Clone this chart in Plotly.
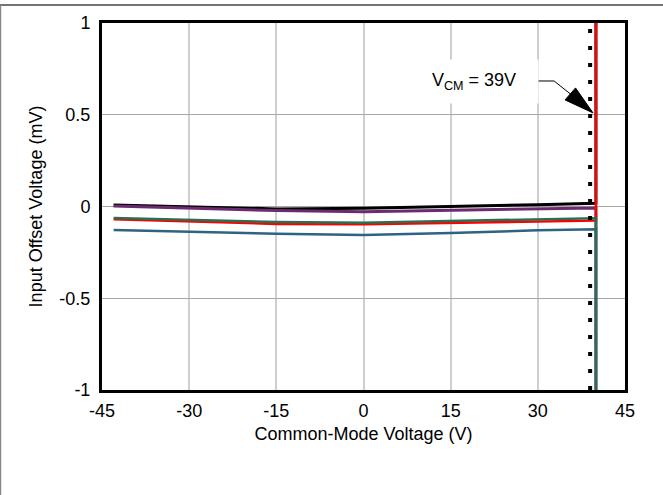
import plotly.graph_objects as go

vcm = [-43, -30, -15, 0, 15, 30, 40, 40]
black = [0.008, 0.0, -0.013, -0.01, -0.002, 0.01, 0.018, 1.0]
purple = [0.003, -0.008, -0.022, -0.028, -0.02, -0.012, -0.008, -1.0]
blue = [-0.128, -0.138, -0.149, -0.155, -0.145, -0.13, -0.124, -1.0]
red = [-0.07, -0.082, -0.095, -0.097, -0.09, -0.082, -0.077, 1.0]
green = [-0.063, -0.075, -0.085, -0.088, -0.078, -0.068, -0.064, -1.0]

series = [
    ("black", black, "#000000", 3),
    ("purple", purple, "#6A2C6E", 3),
    ("blue", blue, "#2E6383", 2.5),
    ("red", red, "#FF0000", 2.5),
    ("green", green, "#2D6E50", 2.5),
]

xticks = [-45, -30, -15, 0, 15, 30, 45]
xticktext = ["-45", "-30", "-15", "0", "15", "30", "45"]
yticks = [1, 0.5, 0, -0.5, -1]
yticktext = ["1", "0.5", "0", "-0.5", "-1"]

vcm_marker = 39
label_text = "V<sub>CM</sub> = 39V"

fig = go.Figure()
for name, ys, col, w in series:
    fig.add_trace(go.Scatter(x=vcm, y=ys, mode="lines", name=name,
                             line=dict(color=col, width=w), showlegend=False))

fig.add_trace(go.Scatter(x=[vcm_marker, vcm_marker], y=[-1, 1], mode="lines",
                         line=dict(color="black", width=4, dash="4px,13px"),
                         showlegend=False))

font = dict(family="Liberation Sans, Arial, sans-serif", size=18, color="black")

fig.update_layout(
    width=663, height=495,
    margin=dict(l=102, r=38, t=23, b=105),
    paper_bgcolor="white", plot_bgcolor="white",
    font=font,
    xaxis=dict(range=[-45, 45], tickvals=xticks, ticktext=xticktext,
               showgrid=True, gridcolor="#CFCFCF", gridwidth=2,
               showline=True, linecolor="black", linewidth=3, mirror=True,
               zeroline=False, ticks="", ticklabelstandoff=2,
               title=dict(text="Common-Mode Voltage (V)", standoff=8, font=font)),
    yaxis=dict(range=[-1, 1], tickvals=yticks, ticktext=yticktext,
               showgrid=True, gridcolor="#A8A8A8", gridwidth=1,
               showline=True, linecolor="black", linewidth=3, mirror=True,
               zeroline=False, ticks="", ticklabelstandoff=5,
               title=dict(text="Input Offset Voltage (mV)", standoff=13, font=font)),
)

# Label (white box covering grid)
fig.add_annotation(x=19.0, y=0.68, xref="x", yref="y",
                   text=label_text, showarrow=False, width=112, height=27,
                   bgcolor="white", borderpad=8, font=font, xanchor="center")
# Leader line
fig.add_shape(type="line", xref="x", yref="y", x0=30, x1=32.8, y0=0.684, y1=0.684,
              line=dict(color="black", width=1))
fig.add_shape(type="line", xref="x", yref="y", x0=32.8, x1=39.3, y0=0.684, y1=0.52,
              line=dict(color="black", width=1))
# Arrowhead (pixel-sized triangle anchored at the tip)
fig.add_shape(type="path", xref="x", yref="y", xsizemode="pixel", ysizemode="pixel",
              xanchor=39.5, yanchor=0.51,
              path="M0,0 L-28,13 L-17.5,25 Z",
              fillcolor="black", line=dict(color="black", width=1))

# outer frame lines
fig.add_shape(type="line", xref="paper", yref="paper", x0=-0.2, x1=1.1,
              y0=1.049, y1=1.049, line=dict(color="#444444", width=1.5))
fig.add_shape(type="line", xref="paper", yref="paper", x0=-0.1941, x1=-0.1941,
              y0=1.049, y1=-0.3, line=dict(color="#888888", width=1.5))

fig.write_html("out.html", post_script="document.body.style.margin='0';",
               config={"displayModeBar": False})
